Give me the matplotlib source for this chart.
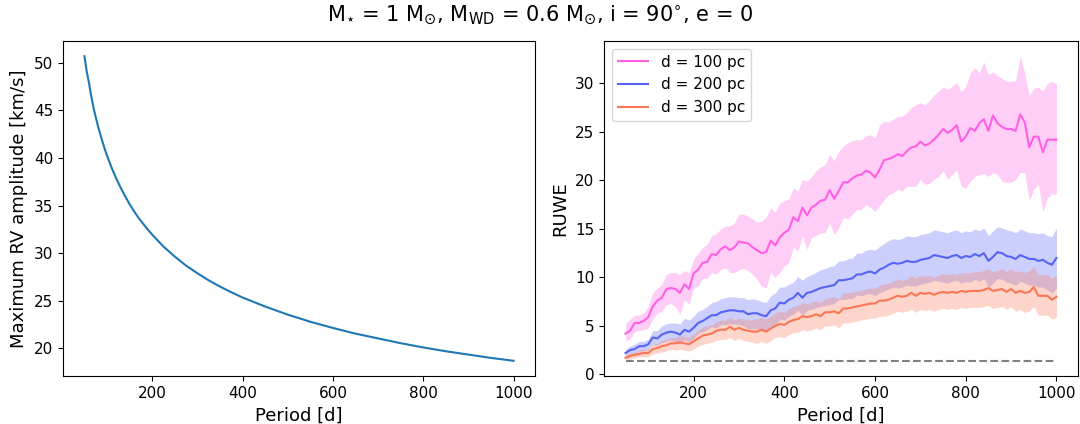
import matplotlib
matplotlib.use("Agg")
import matplotlib.pyplot as plt
import numpy as np

# ---- left panel: max RV amplitude vs period
rv_period = [50, 55, 60, 65, 70, 75, 80, 85, 90, 95, 100, 110, 120, 130, 140,
             150, 160, 170, 180, 190, 200, 225, 250, 275, 300, 325, 350, 375,
             400, 450, 500, 550, 600, 650, 700, 750, 800, 850, 900, 950, 1000]
rv_amp = [50.7, 49.1, 47.9, 46.5, 45.3, 44.3, 43.35, 42.5, 41.7, 40.95, 40.25,
          39.0, 37.9, 36.9, 36.0, 35.15, 34.4, 33.7, 33.1, 32.5, 31.95, 30.7,
          29.65, 28.7, 27.9, 27.15, 26.5, 25.9, 25.35, 24.4, 23.55, 22.8,
          22.15, 21.55, 21.05, 20.55, 20.1, 19.7, 19.35, 19.0, 18.7]

# ---- right panel: RUWE vs period for three distances
period = np.arange(50, 1001, 10)
ruwe_cut = 1.4

pink_mean = [4.2, 4.5, 5.3, 5.3, 5.5, 5.9, 7.0, 7.6, 7.9, 8.8,
             8.9, 8.8, 8.4, 9.3, 8.8, 10.4, 10.8, 11.5, 11.6, 12.4,
             12.3, 12.9, 13.2, 12.8, 13.1, 13.7, 13.6, 13.5, 13.1, 12.8,
             12.5, 12.6, 13.8, 13.3, 14.1, 14.6, 14.9, 16.2, 15.8, 17.2,
             16.4, 17.2, 17.5, 17.9, 18.0, 19.0, 18.1, 18.9, 19.8, 19.8,
             20.2, 20.5, 20.6, 21.0, 20.8, 20.3, 21.1, 22.1, 22.2, 22.4,
             22.7, 22.5, 23.0, 23.4, 23.5, 24.0, 23.6, 23.8, 24.2, 24.7,
             25.3, 24.9, 25.2, 25.7, 24.0, 24.5, 25.4, 25.1, 25.9, 26.3,
             25.1, 26.7, 25.9, 25.5, 25.3, 25.3, 25.1, 26.8, 26.0, 23.4,
             24.5, 24.5, 22.9, 24.2, 24.2, 24.2]
pink_hi = [5.2, 5.7, 6.1, 6.1, 6.4, 7.0, 8.4, 8.9, 9.3, 10.3,
           10.5, 10.5, 10.3, 10.7, 10.5, 11.9, 12.5, 13.1, 13.4, 14.3,
           14.5, 15.0, 15.3, 15.3, 15.6, 16.5, 16.5, 16.3, 16.0, 15.7,
           15.8, 16.2, 17.2, 16.7, 17.7, 17.9, 18.1, 19.2, 18.9, 20.1,
           19.9, 20.4, 21.0, 21.4, 21.6, 22.7, 22.0, 23.0, 23.5, 23.9,
           24.1, 24.2, 24.2, 24.6, 24.7, 24.4, 25.7, 26.1, 26.0, 26.3,
           26.6, 26.6, 27.0, 27.5, 27.8, 28.0, 27.8, 28.2, 28.8, 29.2,
           29.6, 29.4, 29.7, 30.1, 29.1, 29.7, 31.1, 31.6, 31.1, 32.2,
           30.9, 31.2, 30.8, 30.5, 30.2, 30.2, 30.3, 32.8, 31.1, 28.7,
           29.5, 29.6, 29.2, 30.0, 30.2, 30.0]
pink_lo = [3.4, 3.7, 4.4, 4.5, 4.6, 4.8, 5.7, 6.3, 6.5, 7.2,
           7.3, 7.0, 6.2, 7.7, 7.2, 8.9, 9.1, 9.9, 9.9, 10.5,
           10.3, 10.8, 11.0, 10.5, 10.5, 10.8, 10.9, 10.7, 10.3, 9.8,
           9.1, 8.9, 10.5, 10.0, 10.5, 11.2, 11.5, 13.1, 12.7, 14.3,
           12.9, 14.1, 14.3, 14.6, 14.6, 15.6, 14.4, 15.1, 16.2, 16.0,
           16.5, 17.0, 17.0, 17.5, 17.2, 16.8, 17.4, 18.0, 18.5, 18.7,
           19.1, 18.9, 19.4, 19.4, 19.4, 20.1, 19.6, 19.7, 20.1, 20.4,
           21.0, 20.1, 20.6, 21.1, 19.4, 19.2, 19.9, 20.4, 20.6, 20.7,
           20.4, 20.8, 20.6, 19.9, 19.8, 19.8, 20.1, 20.8, 20.8, 17.9,
           19.1, 19.6, 16.8, 18.2, 18.6, 18.6]

blue_mean = [2.2, 2.5, 2.6, 2.9, 2.9, 3.1, 3.8, 3.7, 4.1, 4.3,
             4.4, 4.3, 4.1, 4.6, 4.4, 4.8, 5.3, 5.5, 5.8, 6.1,
             6.1, 6.4, 6.5, 6.6, 6.6, 6.5, 6.5, 6.2, 6.3, 6.3,
             6.1, 6.0, 6.6, 6.8, 7.4, 7.3, 7.7, 7.9, 8.4, 7.9,
             8.4, 8.5, 8.7, 8.9, 9.0, 9.1, 9.2, 9.7, 9.7, 9.8,
             9.9, 10.3, 10.3, 10.5, 10.6, 10.4, 10.8, 11.0, 11.3, 11.5,
             11.4, 11.5, 11.7, 11.6, 11.6, 11.8, 11.9, 12.0, 12.3, 12.2,
             12.1, 12.0, 12.2, 12.3, 12.0, 12.2, 12.1, 12.4, 12.2, 12.5,
             11.7, 12.1, 12.6, 12.5, 12.2, 12.1, 11.9, 12.3, 12.1, 11.9,
             11.9, 11.7, 11.8, 11.5, 11.3, 12.0]
blue_hi = [2.6, 2.9, 3.1, 3.4, 3.4, 3.6, 4.5, 4.5, 5.0, 5.2,
           5.3, 5.3, 5.2, 5.8, 5.6, 6.0, 6.5, 6.7, 7.0, 7.4,
           7.5, 7.8, 7.9, 8.0, 8.0, 7.9, 7.9, 7.7, 7.8, 7.7,
           7.5, 7.4, 8.1, 8.4, 9.0, 9.0, 9.3, 9.5, 10.1, 9.7,
           10.1, 10.3, 10.5, 10.8, 10.9, 11.1, 11.2, 11.7, 11.7, 11.9,
           12.0, 12.5, 12.5, 12.8, 12.9, 12.8, 13.2, 13.5, 13.8, 14.0,
           13.9, 14.0, 14.3, 14.2, 14.2, 14.4, 14.5, 14.6, 14.9, 14.8,
           14.7, 14.6, 14.8, 14.9, 14.6, 14.8, 14.7, 15.0, 14.8, 15.1,
           14.3, 14.8, 15.2, 15.1, 14.9, 14.8, 14.6, 15.0, 14.8, 14.6,
           14.6, 14.5, 14.6, 14.3, 14.2, 15.1]
blue_lo = [1.8, 2.1, 2.1, 2.4, 2.4, 2.5, 3.1, 3.0, 3.3, 3.4,
           3.5, 3.4, 3.1, 3.6, 3.3, 3.7, 4.2, 4.4, 4.6, 4.9,
           4.8, 5.1, 5.1, 5.2, 5.2, 5.1, 5.0, 4.7, 4.7, 4.7,
           4.5, 4.4, 4.9, 5.1, 5.7, 5.6, 6.0, 6.2, 6.6, 6.1,
           6.6, 6.7, 6.9, 7.0, 7.1, 7.2, 7.3, 7.7, 7.7, 7.8,
           7.8, 8.2, 8.1, 8.3, 8.3, 8.1, 8.4, 8.6, 8.8, 9.0,
           8.9, 9.0, 9.2, 9.1, 9.1, 9.3, 9.4, 9.5, 9.7, 9.6,
           9.5, 9.4, 9.6, 9.7, 9.4, 9.6, 9.5, 9.8, 9.6, 9.9,
           9.0, 9.4, 9.9, 9.8, 9.5, 9.4, 9.2, 9.6, 9.4, 9.2,
           9.2, 9.0, 9.0, 8.7, 8.4, 8.9]

orange_mean = [1.7, 1.9, 2.0, 2.1, 2.2, 2.2, 2.6, 2.7, 2.9, 3.0,
               3.2, 3.2, 3.3, 3.2, 3.1, 3.4, 3.7, 4.0, 4.1, 4.2,
               4.5, 4.6, 4.6, 4.9, 4.6, 4.8, 4.6, 4.5, 4.4, 4.4,
               4.6, 4.4, 4.7, 5.0, 5.2, 5.1, 5.4, 5.6, 5.7, 6.0,
               5.9, 6.0, 6.2, 6.0, 6.4, 6.4, 6.5, 6.3, 6.8, 6.8,
               6.9, 7.0, 7.1, 7.2, 7.3, 7.3, 7.6, 7.6, 7.7, 7.9,
               8.1, 8.0, 8.1, 8.4, 8.1, 8.4, 8.3, 8.4, 8.2, 8.4,
               8.5, 8.4, 8.5, 8.4, 8.6, 8.5, 8.6, 8.6, 8.6, 8.7,
               8.9, 8.6, 8.7, 8.8, 8.5, 8.8, 8.4, 8.6, 8.4, 8.5,
               9.0, 8.1, 8.1, 8.1, 7.7, 8.0]
orange_hi = [2.0, 2.2, 2.3, 2.5, 2.6, 2.6, 3.1, 3.2, 3.5, 3.6,
             3.8, 3.8, 4.0, 3.9, 3.8, 4.2, 4.5, 4.9, 5.0, 5.1,
             5.4, 5.6, 5.6, 5.9, 5.6, 5.8, 5.7, 5.6, 5.6, 5.7,
             5.9, 5.7, 6.0, 6.3, 6.5, 6.4, 6.8, 7.0, 7.1, 7.4,
             7.3, 7.4, 7.6, 7.4, 7.8, 7.9, 8.0, 7.8, 8.4, 8.4,
             8.5, 8.6, 8.7, 8.8, 8.9, 8.9, 9.2, 9.3, 9.4, 9.6,
             9.8, 9.7, 9.8, 10.2, 9.9, 10.2, 10.1, 10.2, 10.0, 10.2,
             10.4, 10.3, 10.4, 10.3, 10.5, 10.4, 10.5, 10.6, 10.6, 10.7,
             10.9, 10.6, 10.7, 10.9, 10.6, 10.9, 10.5, 10.7, 10.5, 10.7,
             11.1, 10.2, 10.3, 10.3, 9.9, 10.2]
orange_lo = [1.4, 1.6, 1.7, 1.8, 1.8, 1.8, 2.1, 2.2, 2.3, 2.4,
             2.6, 2.5, 2.6, 2.5, 2.4, 2.6, 2.9, 3.1, 3.2, 3.3,
             3.5, 3.6, 3.6, 3.8, 3.5, 3.7, 3.5, 3.4, 3.3, 3.2,
             3.4, 3.2, 3.5, 3.8, 3.9, 3.8, 4.1, 4.3, 4.3, 4.6,
             4.5, 4.6, 4.8, 4.6, 5.0, 5.0, 5.1, 4.8, 5.3, 5.3,
             5.4, 5.5, 5.6, 5.7, 5.8, 5.8, 6.0, 6.0, 6.1, 6.3,
             6.5, 6.4, 6.5, 6.7, 6.4, 6.7, 6.6, 6.7, 6.5, 6.7,
             6.8, 6.7, 6.8, 6.7, 6.9, 6.8, 6.9, 6.9, 6.9, 7.0,
             7.1, 6.8, 6.9, 7.0, 6.7, 7.0, 6.5, 6.7, 6.4, 6.5,
             7.0, 6.1, 6.1, 6.1, 5.7, 5.9]

SERIES = [
    ("d = 100 pc", pink_mean, pink_lo, pink_hi, "#ff5fe4"),
    ("d = 200 pc", blue_mean, blue_lo, blue_hi, "#5763f3"),
    ("d = 300 pc", orange_mean, orange_lo, orange_hi, "#fb7655"),
]


def main():
    plt.rcParams.update({"font.family": "DejaVu Sans", "font.size": 11})
    fig = plt.figure(figsize=(10.8, 4.24), dpi=100)
    ax1 = fig.add_axes([63 / 1080, 1 - 376 / 424, 472 / 1080, 335 / 424])
    ax2 = fig.add_axes([604 / 1080, 1 - 376 / 424, 474 / 1080, 335 / 424])

    # left: RV amplitude
    ax1.plot(rv_period, rv_amp, color="C0", lw=1.5)
    ax1.set_xlabel("Period [d]", fontsize=13)
    ax1.set_ylabel("Maximum RV amplitude [km/s]", fontsize=13)

    # right: RUWE with 1-sigma bands
    for label, mean, lo, hi, col in SERIES:
        ax2.fill_between(period, lo, hi, color=col, alpha=0.3, lw=0)
        ax2.plot(period, mean, color=col, lw=1.5, label=label)
    ax2.hlines(ruwe_cut, period.min(), period.max(), color="gray", ls="--", lw=1.5)
    ax2.set_xlabel("Period [d]", fontsize=13)
    ax2.set_ylabel("RUWE", fontsize=13)
    ax2.legend(loc="upper left", fontsize=11)

    for ax in (ax1, ax2):
        ax.tick_params(labelsize=11)
        ax.set_xticks([200, 400, 600, 800, 1000])

    fig.suptitle(r"M$_{\star}$ = 1 M$_{\odot}$, M$_{\rm WD}$ = 0.6 M$_{\odot}$, "
                 r"i = 90$^{\circ}$, e = 0", fontsize=15, y=0.99)

    fig.savefig("out.png", dpi=100)
    plt.close(fig)


if __name__ == "__main__":
    main()
